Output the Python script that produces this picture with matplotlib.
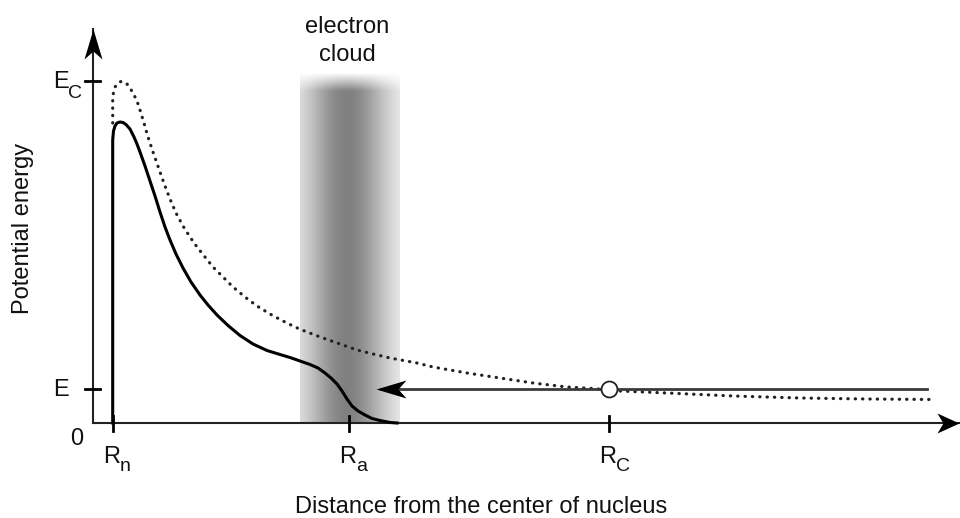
import numpy as np
import matplotlib
matplotlib.use("Agg")
import matplotlib.pyplot as plt
from matplotlib.path import Path
from matplotlib.transforms import Affine2D

plt.rcParams["font.family"] = ["Liberation Sans", "DejaVu Sans"]

# chart units: 1 unit = 100 px, origin at the axes corner
R_N, R_A, R_C = 0.197, 2.56, 5.16
E_LEVEL, E_C = 0.34, 3.42

# screened potential (solid)
solid_r = [0.197, 0.197, 0.205, 0.22, 0.24, 0.27, 0.30, 0.33, 0.37, 0.41, 0.44,
           0.47, 0.52, 0.57, 0.62, 0.67, 0.72, 0.77, 0.83, 0.90, 0.98, 1.07,
           1.15, 1.24, 1.35, 1.47, 1.60, 1.74, 1.87, 1.97, 2.07, 2.17, 2.25,
           2.32, 2.38, 2.44, 2.49, 2.54, 2.59, 2.65, 2.72, 2.79, 2.87, 2.97,
           3.04]
solid_v = [0.0, 2.83, 2.92, 2.97, 3.00, 3.01, 3.005, 2.985, 2.94, 2.86, 2.79,
           2.71, 2.57, 2.42, 2.27, 2.11, 1.96, 1.83, 1.69, 1.55, 1.41, 1.28,
           1.18, 1.08, 0.975, 0.875, 0.79, 0.725, 0.685, 0.655, 0.62, 0.585,
           0.55, 0.50, 0.45, 0.39, 0.32, 0.24, 0.17, 0.12, 0.08, 0.045, 0.025,
           0.005, 0.0]

# bare Coulomb potential (dotted)
dotted_r = [0.197, 0.197, 0.205, 0.22, 0.25, 0.28, 0.31, 0.34, 0.37, 0.40, 0.44,
            0.47, 0.51, 0.55, 0.60, 0.67, 0.72, 0.77, 0.83, 0.90, 0.97, 1.04,
            1.12, 1.20, 1.30, 1.40, 1.52, 1.64, 1.77, 1.90, 2.02, 2.14, 2.30,
            2.47, 2.64, 2.80, 2.97, 3.24, 3.40, 3.74, 4.07, 4.40, 4.74, 5.00,
            5.27, 5.74, 6.40, 7.07, 7.74, 8.40]
dotted_v = [3.00, 3.23, 3.31, 3.36, 3.40, 3.415, 3.41, 3.39, 3.35, 3.30, 3.22,
            3.13, 3.00, 2.86, 2.71, 2.51, 2.37, 2.24, 2.10, 1.97, 1.86, 1.76,
            1.66, 1.56, 1.46, 1.36, 1.26, 1.17, 1.09, 1.02, 0.96, 0.91, 0.85,
            0.79, 0.73, 0.69, 0.65, 0.60, 0.56, 0.50, 0.45, 0.40, 0.36, 0.345,
            0.32, 0.30, 0.27, 0.25, 0.24, 0.235]

cloud_left, cloud_right, cloud_center, cloud_top = 2.07, 3.07, 2.54, 3.51
e_line_start, e_line_tip = 8.34, 2.83
x_axis_end, y_axis_end = 8.66, 3.94

x_tick_pos = [R_N, R_A, R_C]
x_tick_main = ["R", "R", "R"]
x_tick_sub = ["n", "a", "C"]
y_tick_pos = [E_LEVEL, E_C]
y_tick_main = ["E", "E"]
y_tick_sub = ["", "C"]


def head(angle, length=30, half=9, notch=8):
    verts = np.array([(0, 0), (-length, half), (-(length - notch), 0),
                      (-length, -half), (0, 0)], float)
    verts = Affine2D().rotate_deg(angle).transform(verts)
    codes = [Path.MOVETO, Path.LINETO, Path.LINETO, Path.LINETO, Path.CLOSEPOLY]
    return Path(verts, codes), 2 * length * 0.72


def label(x, y, main, sub, sub_dx, sub_dy):
    ax.text(x, y, main, fontsize=17, ha="left", va="baseline", color="#111111")
    if sub:
        ax.annotate(sub, (x, y), xytext=(sub_dx, sub_dy), textcoords="offset points",
                    fontsize=14, ha="left", va="baseline", color="#111111")


fig = plt.figure(figsize=(9.6, 5.18), dpi=100)
ax = fig.add_axes([0, 0, 1, 1])
ax.set_xlim(-0.93, 8.67)
ax.set_ylim(-0.95, 4.23)
ax.axis("off")

# electron cloud band
gx = np.linspace(cloud_left, cloud_right, 300)
gy = np.linspace(0, cloud_top, 200)
alpha_x = 0.50 * np.exp(-((gx - cloud_center) / 0.42) ** 2)
alpha_y = np.clip((cloud_top - gy) / 0.18, 0, 1)
rgba = np.zeros((len(gy), len(gx), 4))
rgba[..., 3] = alpha_y[:, None] * alpha_x[None, :]
ax.imshow(rgba, extent=(cloud_left, cloud_right, 0, cloud_top), origin="lower",
          aspect="auto", interpolation="bilinear", zorder=1)

# axes with arrow heads
ax.plot([0, x_axis_end], [0, 0], color="#222222", lw=1.5, zorder=3)
ax.plot([0, 0], [0, y_axis_end], color="#222222", lw=1.5, zorder=3)
p, ms = head(0, length=22, half=10, notch=6)
ax.plot([x_axis_end], [0], marker=p, ms=ms, color="black", mew=0, zorder=4)
p, ms = head(90, length=30, half=9, notch=8)
ax.plot([0], [y_axis_end], marker=p, ms=ms, color="black", mew=0, zorder=4)

# ticks
for xt in x_tick_pos:
    ax.plot([xt, xt], [-0.08, 0.07], color="black", lw=2, zorder=3)
for yt in y_tick_pos:
    ax.plot([-0.08, 0.07], [yt, yt], color="black", lw=2, zorder=3)

# curves
ax.plot(dotted_r, dotted_v, color="#222222", lw=2.3, ls=(0, (0.1, 2.2)),
        dash_capstyle="round", zorder=5)
ax.plot(solid_r, solid_v, color="black", lw=2.2, zorder=6,
        solid_joinstyle="round")

# incoming particle at energy E
ax.plot([e_line_start, e_line_tip + 0.05], [E_LEVEL, E_LEVEL], color="#3a3a3a",
        lw=2, zorder=6)
p, ms = head(180, length=30, half=9, notch=8)
ax.plot([e_line_tip], [E_LEVEL], marker=p, ms=ms, color="black", mew=0, zorder=7)
ax.plot([R_C], [E_LEVEL], marker="o", ms=11.5, mfc="white", mec="#222222",
        mew=1.3, zorder=8)

# tick labels
for xt, m, s in zip(x_tick_pos, x_tick_main, x_tick_sub):
    label(xt - 0.10, -0.40, m, s, 12.3, -5.5)
for yt, m, s in zip(y_tick_pos, y_tick_main, y_tick_sub):
    label(-0.395, yt - 0.07, m, s, 10.3, -7.5)
ax.text(-0.16, -0.16, "0", fontsize=17, ha="center", va="center", color="#111111")

ax.text(2.54, 3.90, "electron", fontsize=17, ha="center", va="baseline",
        color="#111111")
ax.text(2.54, 3.62, "cloud", fontsize=17, ha="center", va="baseline",
        color="#111111")
ax.text(3.885, -0.90, "Distance from the center of nucleus", fontsize=17,
        ha="center", va="baseline", color="#111111")
ax.text(-0.70, 1.95, "Potential energy", fontsize=17, rotation=90,
        ha="center", va="center", color="#111111")

fig.savefig("out.png", dpi=100)
